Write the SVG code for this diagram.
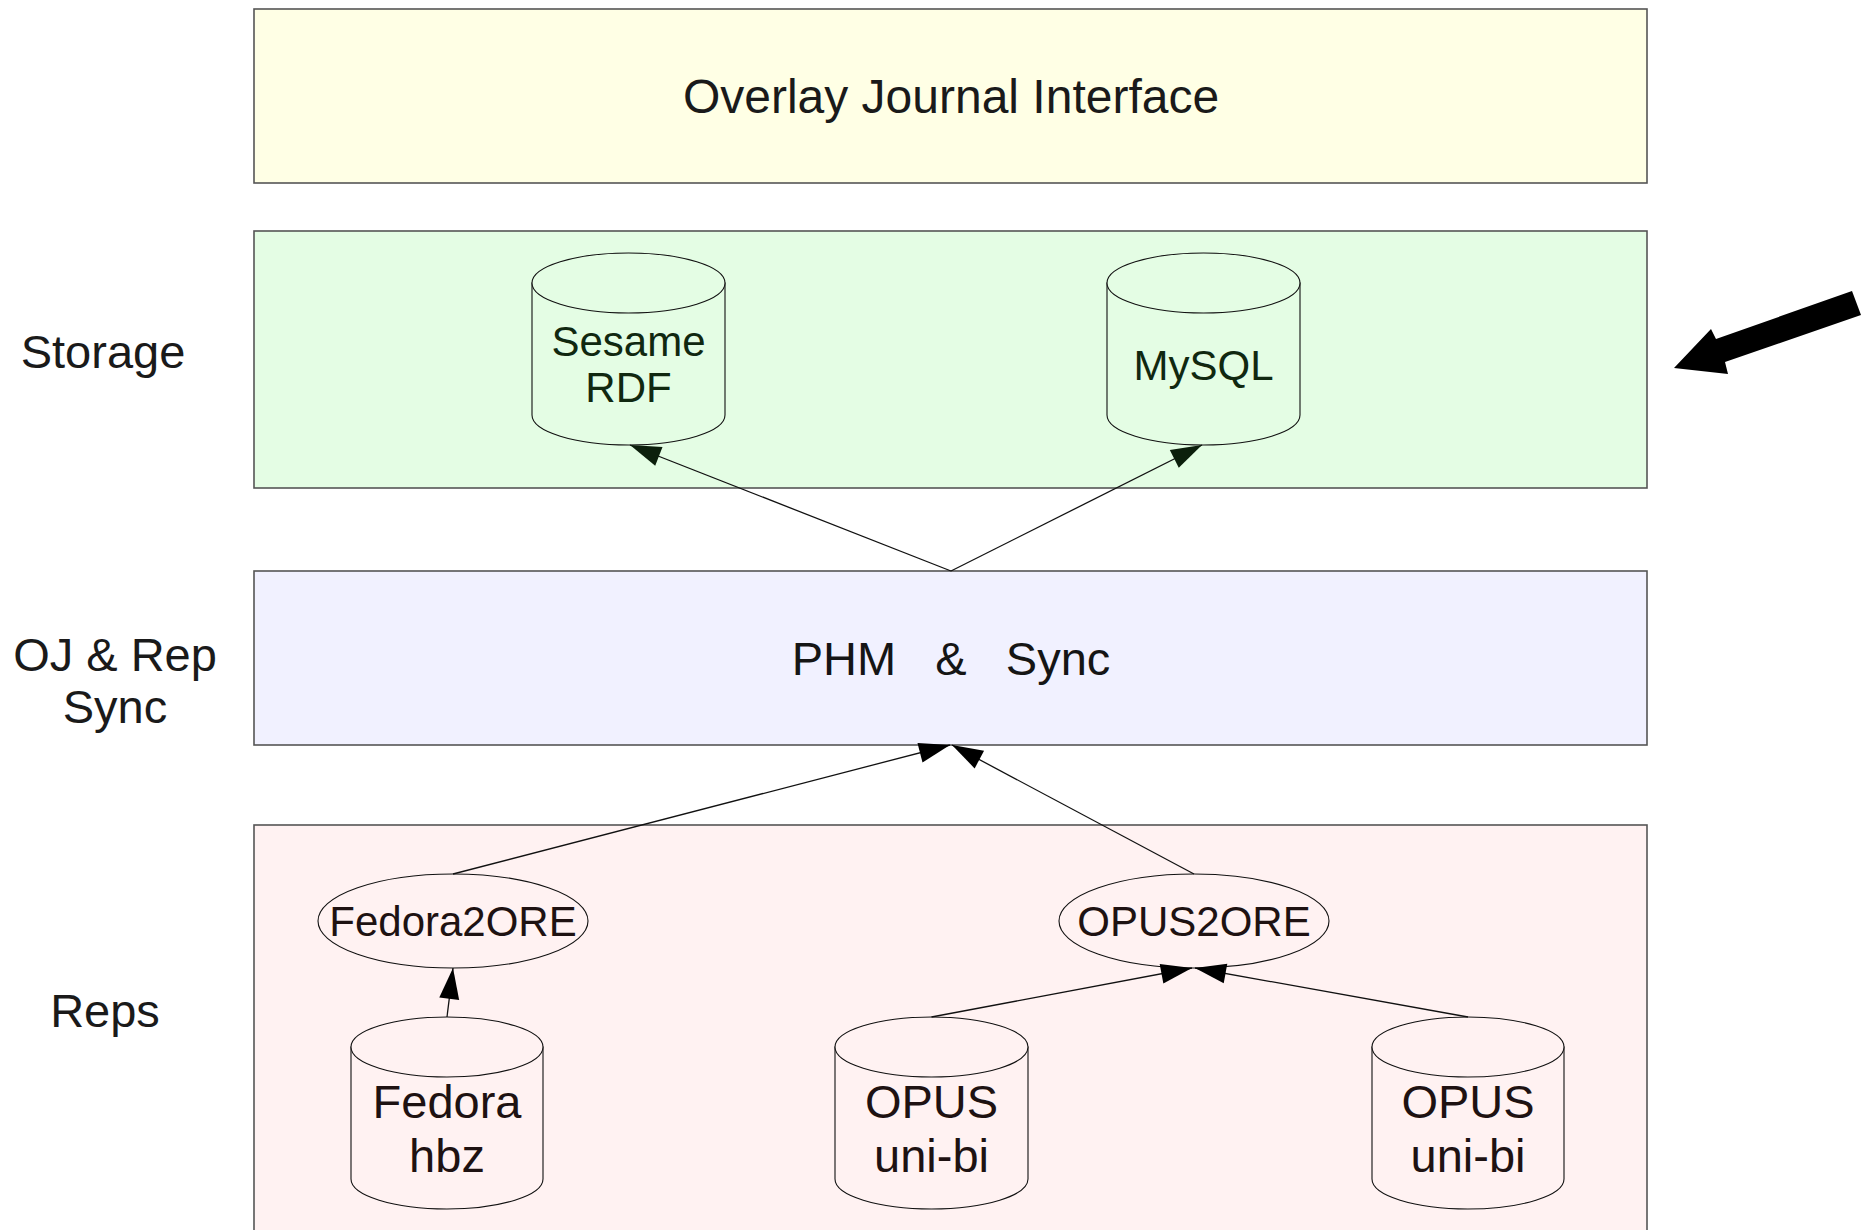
<svg xmlns="http://www.w3.org/2000/svg" width="1861" height="1230" viewBox="0 0 1861 1230">
<style>
.layer{stroke:#555;stroke-width:1.6}
.cyl{stroke:#111;stroke-width:1.1}
.t{font-family:"Liberation Sans",Arial,sans-serif;text-anchor:middle}
.conn{stroke:#111;stroke-width:1.3;fill:none}
</style>
<defs>
<marker id="ah" markerUnits="userSpaceOnUse" markerWidth="34" markerHeight="22" refX="31" refY="10" orient="auto" overflow="visible">
<path d="M0,0 L31,10 L0,20 Z" fill="#000"/>
</marker>
<marker id="ahg" markerUnits="userSpaceOnUse" markerWidth="34" markerHeight="22" refX="31" refY="10" orient="auto" overflow="visible">
<path d="M0,0 L31,10 L0,20 Z" fill="#0c1f0c"/>
</marker>
</defs>
<rect width="1861" height="1230" fill="#fff"/>

<g id="labels">
<text class="t" x="103" y="368" font-size="47" fill="#1a1a1a">Storage</text>
<text class="t" x="115" y="671" font-size="47" fill="#1a1a1a">OJ &amp; Rep</text>
<text class="t" x="115" y="723" font-size="47" fill="#1a1a1a">Sync</text>
<text class="t" x="105" y="1027" font-size="47" fill="#1a1a1a">Reps</text>
</g>

<g id="overlay-journal-interface">
<rect class="layer" x="254" y="9" width="1393" height="174" fill="#ffffe5"/>
<text class="t" x="951" y="113" font-size="48" fill="#1a1a1a">Overlay Journal Interface</text>
</g>

<g id="storage">
<rect class="layer" x="254" y="231" width="1393" height="257" fill="#e4fde4"/>
</g>

<g id="sesame-rdf">
<path class="cyl" d="M532,283 L532,415 A96.5,30 0 0 0 725,415 L725,283 Z" fill="#e4fde4"/>
<ellipse class="cyl" cx="628.5" cy="283" rx="96.5" ry="30" fill="#e4fde4"/>
<text class="t" x="628.5" y="356" font-size="42" fill="#102810">Sesame</text>
<text class="t" x="628.5" y="402" font-size="42" fill="#102810">RDF</text>
</g>

<g id="mysql">
<path class="cyl" d="M1107,283 L1107,415 A96.5,30 0 0 0 1300,415 L1300,283 Z" fill="#e4fde4"/>
<ellipse class="cyl" cx="1203.5" cy="283" rx="96.5" ry="30" fill="#e4fde4"/>
<text class="t" x="1203.5" y="380" font-size="42" fill="#102810">MySQL</text>
</g>

<g id="phm-sync">
<rect class="layer" x="254" y="571" width="1393" height="174" fill="#f1f1ff"/>
<text class="t" x="951" y="675" font-size="47" fill="#151515" xml:space="preserve">PHM   &amp;   Sync</text>
</g>

<g id="reps">
<rect class="layer" x="254" y="825" width="1393" height="420" fill="#fff2f2"/>
</g>

<g id="fedora2ore">
<ellipse class="cyl" cx="453" cy="921" rx="135" ry="47" fill="#fff2f2"/>
<text class="t" x="453" y="936" font-size="42" fill="#1e1212">Fedora2ORE</text>
</g>

<g id="opus2ore">
<ellipse class="cyl" cx="1194" cy="921" rx="135" ry="47" fill="#fff2f2"/>
<text class="t" x="1194" y="936" font-size="42" fill="#1e1212">OPUS2ORE</text>
</g>

<g id="fedora-hbz">
<path class="cyl" d="M351,1047 L351,1179 A96,30 0 0 0 543,1179 L543,1047 Z" fill="#fff2f2"/>
<ellipse class="cyl" cx="447" cy="1047" rx="96" ry="30" fill="#fff2f2"/>
<text class="t" x="447" y="1118" font-size="47" fill="#1e1212">Fedora</text>
<text class="t" x="447" y="1172" font-size="47" fill="#1e1212">hbz</text>
</g>

<g id="opus-uni-bi-1">
<path class="cyl" d="M835,1047 L835,1179 A96.5,30 0 0 0 1028,1179 L1028,1047 Z" fill="#fff2f2"/>
<ellipse class="cyl" cx="931.5" cy="1047" rx="96.5" ry="30" fill="#fff2f2"/>
<text class="t" x="931.5" y="1118" font-size="47" fill="#1e1212">OPUS</text>
<text class="t" x="931.5" y="1172" font-size="47" fill="#1e1212">uni-bi</text>
</g>

<g id="opus-uni-bi-2">
<path class="cyl" d="M1372,1047 L1372,1179 A96,30 0 0 0 1564,1179 L1564,1047 Z" fill="#fff2f2"/>
<ellipse class="cyl" cx="1468" cy="1047" rx="96" ry="30" fill="#fff2f2"/>
<text class="t" x="1468" y="1118" font-size="47" fill="#1e1212">OPUS</text>
<text class="t" x="1468" y="1172" font-size="47" fill="#1e1212">uni-bi</text>
</g>

<g id="connectors">
<line class="conn" x1="951" y1="571" x2="630" y2="445" marker-end="url(#ahg)"/>
<line class="conn" x1="951" y1="571" x2="1202" y2="445" marker-end="url(#ahg)"/>
<line class="conn" x1="453" y1="874" x2="950" y2="745" marker-end="url(#ah)"/>
<line class="conn" x1="1194" y1="874" x2="952" y2="745" marker-end="url(#ah)"/>
<line class="conn" x1="447" y1="1017" x2="453" y2="968" marker-end="url(#ah)"/>
<line class="conn" x1="931.5" y1="1017" x2="1192" y2="968" marker-end="url(#ah)"/>
<line class="conn" x1="1468" y1="1017" x2="1195" y2="968" marker-end="url(#ah)"/>
</g>

<g id="pointer-arrow">
<polygon points="1852,291 1716,339 1711,329 1674,368 1728,374 1725,362 1861,315" fill="#000"/>
</g>
</svg>
